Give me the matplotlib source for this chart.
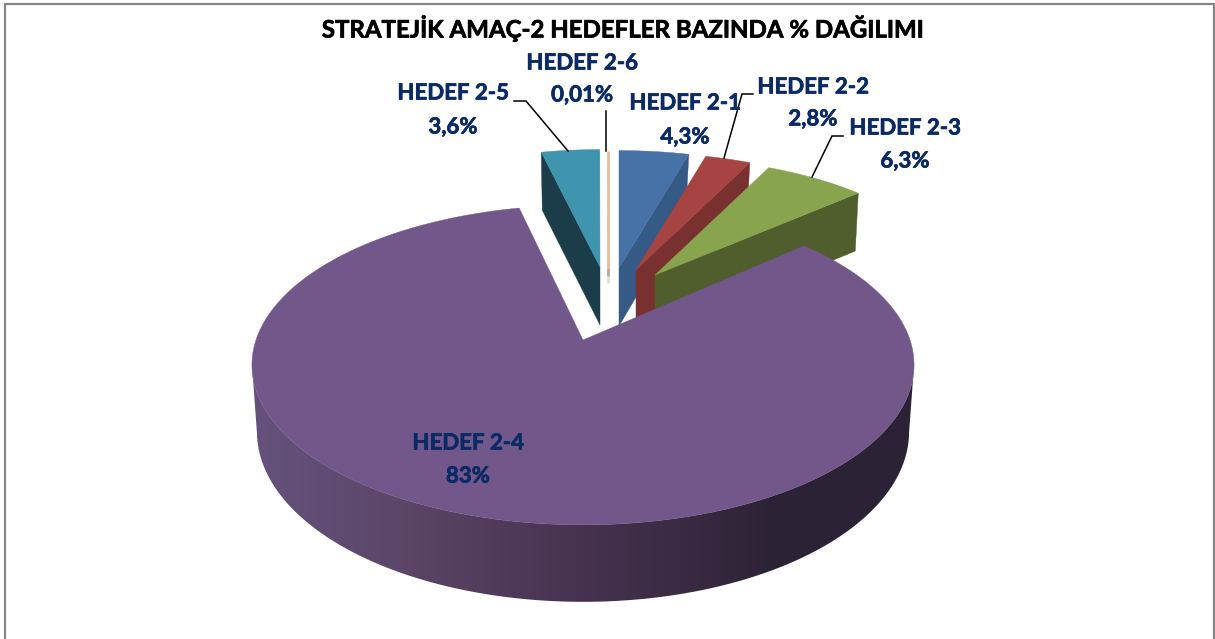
import numpy as np
import matplotlib
matplotlib.use("Agg")
import matplotlib.pyplot as plt
import matplotlib.patheffects as pe
from matplotlib.colors import LinearSegmentedColormap
from matplotlib.patches import PathPatch
from matplotlib.path import Path

plt.rcParams['font.family'] = ['Lato', 'DejaVu Sans']

title = "STRATEJİK AMAÇ-2 HEDEFLER BAZINDA % DAĞILIMI"
names = ["HEDEF 2-1", "HEDEF 2-2", "HEDEF 2-3", "HEDEF 2-4", "HEDEF 2-5", "HEDEF 2-6"]
values = [4.3, 2.8, 6.3, 83, 3.6, 0.01]
value_labels = ["4,3%", "2,8%", "6,3%", "83%", "3,6%", "0,01%"]
face_colors = ["#4672a8", "#a54442", "#89a44e", "#71578a", "#3f95ae", "#eabd96"]
wall_colors = ["#355a85", "#78312f", "#505e2d", "#71578a", "#1b3d49", "#bba898"]

# pixel layout of the picture
W, H = 1215, 639
CX, CY = 583, 340
R, RY, P = 327, 156, 0.156
DEPTH = 65
apexes = [(619, 268), (636, 270), (655, 275), (CX, CY), (600, 267), (608, 268)]
label_pos = [(685, 103), (813, 87), (905, 128), (468, 443), (453, 93), (582, 63)]
value_pos = [(685, 137), (813, 119), (905, 161), (468, 476), (453, 127), (582, 95)]
leaders = [
    [(514, 101), (526, 101), (568, 151)],
    [(606, 111), (606, 151)],
    [(753, 94), (742, 94), (724, 158)],
    [(843, 136), (832, 136), (812, 177)],
]


def project(theta):
    """offset from the apex of a point on the pie rim, theta clockwise from top"""
    u, v = np.sin(theta), np.cos(theta)
    w = 1 + P * v
    return R * u / w, -RY * v / w, w


fig = plt.figure(figsize=(W / 100, H / 100), dpi=100)
ax = fig.add_axes([0, 0, 1, 1])
ax.axis("off")

# chart frame
ax.plot([5, 5, 1214, 1214], [H, 3.5, 3.5, H], color="#868686", lw=1.6, solid_joinstyle="miter", zorder=1)

edges = np.radians(np.cumsum([0] + values) / sum(values) * 360)

# exploded slices at the back
for i in [4, 5, 0, 1, 2]:
    ax_, ay_ = apexes[i]
    z = 10 + [4, 5, 0, 1, 2].index(i)
    if i == 5:
        # the sliver is only a line with a fading wall under it
        ax.plot([ax_, ax_], [151, ay_], color=face_colors[i], lw=2, zorder=z, solid_capstyle="butt")
        ax.plot([ax_, ax_], [ay_, ay_ + 8], color=wall_colors[i], lw=2, zorder=z, solid_capstyle="butt")
        ax.plot([ax_, ax_], [ay_ + 8, ay_ + 15], color=wall_colors[i], alpha=0.4, lw=2, zorder=z, solid_capstyle="butt")
        continue
    t = np.linspace(edges[i], edges[i + 1], 30)
    dx, dy, _ = project(t)
    x = ax_ + 0.92 * dx
    y = ay_ + 0.87 * dy
    # the visible cut wall: start edge for the slice left of top, end edge otherwise
    ox, oy = (x[0], y[0]) if i == 4 else (x[-1], y[-1])
    shrink = 1 if i == 4 else -3
    ax.fill([ox, ax_, ax_, ox + shrink], [oy, ay_, ay_ + 58, oy + 58],
            color=wall_colors[i], lw=0.3, zorder=z)
    ax.fill(np.r_[ax_, x], np.r_[ay_, y], color=face_colors[i], lw=0.3, zorder=z + 0.5)

# big slice, side band first
t = np.linspace(edges[3], edges[4], 600)
dx, dy, w = project(t)
x_top, y_top = CX + dx, CY + dy
x_bot, y_bot = CX + 0.985 * dx, CY + dy + DEPTH / w

side_cmap = LinearSegmentedColormap.from_list(
    "side", [(0, "#65527c"), (0.22, "#5c4669"), (0.5, "#46324f"), (0.68, "#38293f"),
             (0.78, "#2d2337"), (1, "#2c2236")])
x0, x1 = x_top.min(), x_top.max()
band = ax.imshow(np.linspace(0, 1, 256)[None, :], cmap=side_cmap, aspect="auto",
                 extent=(x0, x1, 610, 240), zorder=20)
# only the front of the band shows, from the right silhouette round to the left one
i_r, i_l = np.argmax(x_bot), np.argmin(x_bot)
front = np.arange(i_r, i_l + 1)
band_x = np.r_[x_top[front], x_bot[front][::-1], x_top[i_r]]
band_y = np.r_[y_top[front], y_bot[front][::-1], y_top[i_r]]
clip = PathPatch(Path(np.c_[band_x, band_y]), transform=ax.transData, fc="none", ec="none")
ax.add_patch(clip)
band.set_clip_path(clip)
ax.fill(np.r_[CX, x_top], np.r_[CY, y_top], color=face_colors[3], lw=0.3, zorder=21)

for pts in leaders:
    xs, ys = zip(*pts)
    ax.plot(xs, ys, color="black", lw=1.1, zorder=25, solid_joinstyle="miter")

# Lato bold is a bit lighter than the original face, a thin stroke evens it out
label_fx = [pe.withStroke(linewidth=0.5, foreground="#0a2a66")]
for n, v, lp, vp in zip(names, value_labels, label_pos, value_pos):
    ax.text(lp[0], lp[1], n, color="#0a2a66", fontsize=16, fontweight="bold", ha="center", va="center",
            zorder=30, path_effects=label_fx)
    ax.text(vp[0], vp[1], v, color="#0a2a66", fontsize=16, fontweight="bold", ha="center", va="center",
            zorder=30, path_effects=label_fx)

ax.text(622, 28, title, color="black", fontsize=17.3, fontweight="bold", ha="center", va="center", zorder=30,
        path_effects=[pe.withStroke(linewidth=0.5, foreground="black")])

ax.set_xlim(0, W)
ax.set_ylim(H, 0)

fig.savefig("out.png", dpi=100)
